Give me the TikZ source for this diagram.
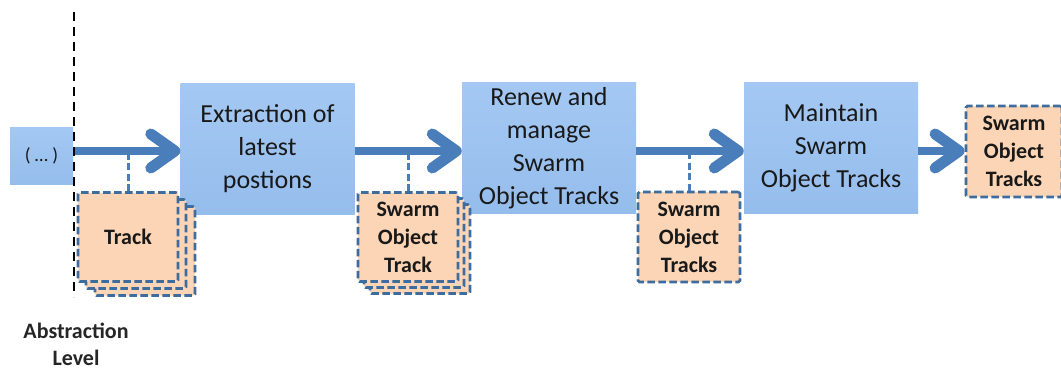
\documentclass[tikz,border=0pt]{standalone}
\usepackage{fontspec}
\setmainfont{Carlito}
\usetikzlibrary{arrows.meta}
\definecolor{proctop}{HTML}{A4C8F3}
\definecolor{procbot}{HTML}{95BDEC}
\definecolor{flowblue}{HTML}{4A7EBB}
\definecolor{datafill}{HTML}{FBD5B5}
\definecolor{dataedge}{HTML}{3D6C9F}
\tikzset{
  proc/.style={rectangle, top color=proctop, bottom color=procbot, draw=none,
    minimum width=174pt, minimum height=130pt, inner sep=0pt, align=center,
    font=\fontsize{26}{33}\selectfont, text=black!90},
  datum/.style={rectangle, fill=datafill, draw=dataedge, line width=2.8pt,
    dash pattern=on 7.5pt off 3.5pt, rounded corners=1.5pt,
    minimum width=100pt, minimum height=89pt, inner sep=0pt, align=center,
    font=\fontsize{22}{28}\selectfont\bfseries, text=black!90},
  flow/.style={draw=flowblue, line width=8pt,
    -{Straight Barb[length=24pt, width=34pt, line width=11pt,
      line cap=round, line join=round]}},
  tick/.style={draw=flowblue, line width=3pt, dash pattern=on 7pt off 3.5pt},
  level/.style={draw=black, line width=2.8pt, dash pattern=on 9pt off 6pt},
  caption/.style={font=\fontsize{22}{27}\selectfont\bfseries, align=center, text=black!85}
}
\begin{document}
\begin{tikzpicture}[x=1pt, y=-1pt]
  \useasboundingbox (0,0) rectangle (1061,369);
  % lane of the main flow
  \coordinate (lane) at (0,151);

  % input placeholder
  \node[proc, minimum width=63pt, minimum height=57pt,
        font=\fontsize{19}{22}\selectfont] (src) at (41.5,155.5) {( … )};

  % processing steps
  \node[proc] (extract) at (267.5,149) {Extraction of\\latest\\postions};
  \node[proc] (renew)   at (549,148)   {Renew and\\manage\\Swarm\\Object Tracks};
  \node[proc] (keep)    at (831,148)   {Maintain\\Swarm\\Object Tracks};

  % data passed between steps
  \node[datum] (trackC) at (145,251) {};
  \node[datum] (trackB) at (136,244) {};
  \node[datum] (track)  at (128,237) {Track};

  \node[datum] (sotC) at (420,249) {};
  \node[datum] (sotB) at (414,243) {};
  \node[datum] (sot)  at (408,237) {Swarm\\Object\\Track};

  \node[datum, minimum width=102pt, minimum height=90pt] (sots) at (689,237) {Swarm\\Object\\Tracks};

  \node[datum, minimum width=96pt, minimum height=91pt] (out) at (1014,151.5) {Swarm\\Object\\Tracks};

  % links from the flow to the data it carries
  \draw[tick] (track.north) -- (track.north |- lane);
  \draw[tick] (sot.north)   -- (sot.north |- lane);
  \draw[tick] (sots.north)  -- (sots.north |- lane);

  % main flow
  \draw[flow] (src.east |- lane)     -- (extract.west |- lane);
  \draw[flow] (extract.east |- lane) -- (renew.west |- lane);
  \draw[flow] (renew.east |- lane)   -- (keep.west |- lane);
  \draw[flow] (keep.east |- lane)    -- (out.west |- lane);

  % abstraction level marker
  \coordinate (lvtop) at (74,12);
  \coordinate (lvbot) at (74,297);
  \draw[level] (lvtop) -- (lvbot);
  \node[caption] (lvl) at (76,344) {Abstraction\\Level};
\end{tikzpicture}
\end{document}
